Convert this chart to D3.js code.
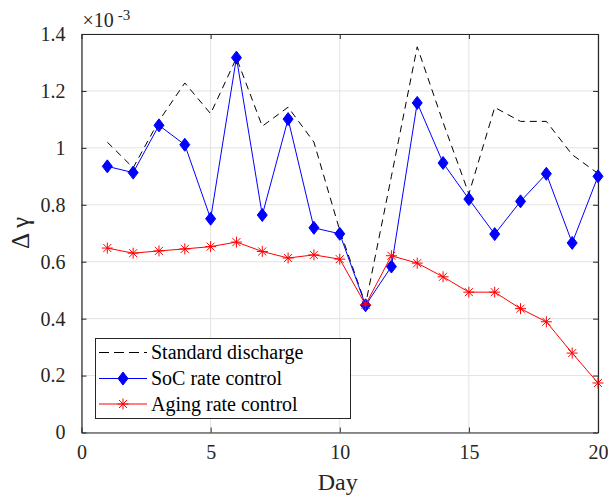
<!DOCTYPE html>
<html>
<head>
<meta charset="utf-8">
<script src="https://cdn.jsdelivr.net/npm/d3@7"></script>
<style>
  body { margin: 0; background: #fff; }
  svg, svg text { font-family: "Liberation Serif", "Times New Roman", Times, "DejaVu Serif", serif; }
</style>
</head>
<body>
<div class="chart"></div>
<script>
const days = [1, 2, 3, 4, 5, 6, 7, 8, 9, 10, 11, 12, 13, 14, 15, 16, 17, 18, 19, 20];
const standard = [1.02, 0.93, 1.095, 1.228, 1.12, 1.316, 1.076, 1.143, 1.02, 0.71, 0.45, 0.90, 1.355, 1.09, 0.838, 1.142, 1.093, 1.093, 0.976, 0.91];
const socRate = [0.935, 0.913, 1.079, 1.011, 0.751, 1.317, 0.764, 1.101, 0.719, 0.698, 0.447, 0.583, 1.158, 0.947, 0.820, 0.697, 0.812, 0.909, 0.666, 0.900];
const agingRate = [0.648, 0.630, 0.638, 0.645, 0.653, 0.669, 0.636, 0.613, 0.624, 0.609, 0.449, 0.621, 0.595, 0.547, 0.493, 0.493, 0.435, 0.389, 0.279, 0.174];
const xTicks = [0, 5, 10, 15, 20];
const yTicks = [0, 0.2, 0.4, 0.6, 0.8, 1, 1.2, 1.4];
const seriesNames = ["Standard discharge", "SoC rate control", "Aging rate control"];

const serif = "'Liberation Serif', 'Times New Roman', Times, 'DejaVu Serif', serif";

function drawChart() {
    const width = 608, height = 498;
    const left = 81.5, right = 598, top = 34, bottom = 432.5;
    const axisColor = "#262626";

    const svg = d3.select(".chart").append("svg")
        .attr("width", width)
        .attr("height", height)
        .attr("font-family", serif);

    const x = d3.scaleLinear().domain([0, 20]).range([left, right]);
    const y = d3.scaleLinear().domain([0, 1.4]).range([bottom, top]);

    // grid
    const grid = svg.append("g").attr("stroke", "#e3e3e3").attr("stroke-width", 1);
    grid.selectAll(".gx").data(xTicks).enter().append("line")
        .attr("x1", d => x(d)).attr("x2", d => x(d))
        .attr("y1", top).attr("y2", bottom);
    grid.selectAll(".gy").data(yTicks).enter().append("line")
        .attr("x1", left).attr("x2", right)
        .attr("y1", d => y(d)).attr("y2", d => y(d));

    // axes
    const fmt = d => String(+d.toFixed(1));
    const styleAxis = g => {
        g.attr("font-family", serif);
        g.selectAll("path").attr("stroke", axisColor);
        g.selectAll("line").attr("stroke", axisColor);
        g.selectAll("text").attr("fill", axisColor)
            .attr("font-family", serif)
            .attr("font-size", 20);
    };
    svg.append("g").attr("transform", `translate(0,${bottom})`)
        .call(d3.axisBottom(x).tickValues(xTicks).tickSizeInner(-5).tickSizeOuter(0).tickPadding(12).tickFormat(fmt))
        .call(styleAxis);
    svg.append("g").attr("transform", `translate(0,${top})`)
        .call(d3.axisTop(x).tickValues(xTicks).tickSizeInner(-5).tickSizeOuter(0).tickFormat(""))
        .call(styleAxis);
    svg.append("g").attr("transform", `translate(${left},0)`)
        .call(d3.axisLeft(y).tickValues(yTicks).tickSizeInner(-5).tickSizeOuter(0).tickPadding(16).tickFormat(fmt))
        .call(styleAxis);
    svg.append("g").attr("transform", `translate(${right},0)`)
        .call(d3.axisRight(y).tickValues(yTicks).tickSizeInner(-5).tickSizeOuter(0).tickFormat(""))
        .call(styleAxis);
    svg.selectAll(".domain").attr("stroke-width", 1.2);

    // exponent
    const expo = svg.append("text").attr("x", left + 1).attr("y", 27)
        .attr("fill", axisColor).attr("font-size", 20);
    expo.append("tspan").text("×10");
    expo.append("tspan").attr("dx", 4).attr("dy", -7).attr("font-size", 15).text("-3");

    // labels
    svg.append("text").attr("x", (left + right) / 2 - 2).attr("y", 490)
        .attr("text-anchor", "middle").attr("fill", axisColor)
        .attr("font-size", 24).text("Day");
    svg.append("text")
        .attr("transform", "translate(29,233) rotate(-90)")
        .attr("text-anchor", "middle").attr("fill", axisColor)
        .attr("font-size", 25).text("Δ γ");

    const line = d3.line().x((d, i) => x(days[i])).y(d => y(d));
    const diamond = "M0,-6.5L5,0L0,6.5L-5,0Z";
    const star = "M-5.5,0H5.5M0,-5.5V5.5M-4,-4L4,4M-4,4L4,-4";

    // standard discharge
    svg.append("path").datum(standard)
        .attr("d", line).attr("fill", "none")
        .attr("stroke", "#000").attr("stroke-width", 1)
        .attr("stroke-dasharray", "7,5");

    // SoC rate control
    svg.append("path").datum(socRate)
        .attr("d", line).attr("fill", "none")
        .attr("stroke", "#0000ff").attr("stroke-width", 1);
    svg.selectAll(".soc").data(socRate).enter().append("path")
        .attr("transform", (d, i) => `translate(${x(days[i])},${y(d)})`)
        .attr("d", diamond).attr("fill", "#0000ff").attr("stroke", "#0000ff");

    // aging rate control
    svg.append("path").datum(agingRate)
        .attr("d", line).attr("fill", "none")
        .attr("stroke", "#ff0000").attr("stroke-width", 1);
    svg.selectAll(".aging").data(agingRate).enter().append("path")
        .attr("transform", (d, i) => `translate(${x(days[i])},${y(d)})`)
        .attr("d", star).attr("fill", "none").attr("stroke", "#ff0000").attr("stroke-width", 1);

    // legend
    const lg = svg.append("g");
    lg.append("rect").attr("x", 95.5).attr("y", 338.5).attr("width", 255).attr("height", 80)
        .attr("fill", "#fff").attr("stroke", axisColor).attr("stroke-width", 1);
    const rows = [352.5, 378.5, 404];
    const colors = ["#000", "#0000ff", "#ff0000"];
    seriesNames.forEach((name, i) => {
        const ly = rows[i];
        lg.append("line").attr("x1", 99).attr("x2", 147).attr("y1", ly).attr("y2", ly)
            .attr("stroke", colors[i]).attr("stroke-width", 1)
            .attr("stroke-dasharray", i === 0 ? "10,5" : null);
        if (i === 1) {
            lg.append("path").attr("transform", `translate(123,${ly})`).attr("d", diamond)
                .attr("fill", colors[i]).attr("stroke", colors[i]);
        }
        if (i === 2) {
            lg.append("path").attr("transform", `translate(123,${ly})`).attr("d", star)
                .attr("fill", "none").attr("stroke", colors[i]);
        }
        lg.append("text").attr("x", 151).attr("y", ly + 6.5)
            .attr("fill", "#000").attr("font-size", 20).text(name);
    });
}

drawChart();
</script>
</body>
</html>
